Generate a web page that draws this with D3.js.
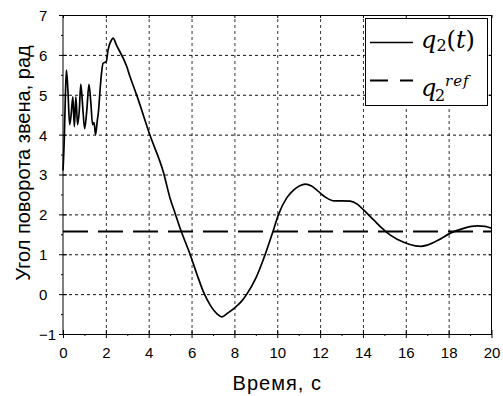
<!DOCTYPE html>
<html>
<head>
<meta charset="utf-8">
<script src="https://cdn.jsdelivr.net/npm/d3@7"></script>
<style>
  body { margin: 0; background: #fff; }
  svg { display: block; }
</style>
</head>
<body>
<svg width="503" height="396"></svg>
<script>
// time, s
var tData = [0, 0.06, 0.11, 0.16, 0.23, 0.31, 0.38, 0.46, 0.53, 0.6, 0.68, 0.76, 0.83, 0.92, 1.01,
  1.11, 1.21, 1.3, 1.38, 1.45, 1.52, 1.6, 1.66, 1.72, 1.79, 1.87, 2.02, 2.1, 2.26, 2.34, 2.49,
  2.98, 3.13, 3.44, 4.07, 4.69, 5.0, 5.23, 5.5, 5.93, 6.25, 6.56, 6.9, 7.2, 7.41, 7.7, 8.04,
  8.35, 8.58, 9.0, 9.44, 9.8, 10.06, 10.45, 10.76, 11.05, 11.31, 11.6, 11.85, 12.2, 12.63,
  13.0, 13.41, 13.75, 14.03, 14.5, 14.9, 15.28, 15.9, 16.45, 16.7, 17.0, 17.5, 18.08, 18.7,
  19.33, 19.7, 20];
// q2(t), rad
var q2 = [3.1, 3.9, 4.95, 5.62, 5.1, 4.25, 4.5, 4.95, 4.2, 4.95, 4.25, 4.6, 5.27, 4.7, 4.15,
  4.6, 5.26, 4.8, 4.25, 4.3, 4.0, 4.35, 4.6, 5.05, 5.5, 5.79, 5.83, 6.12, 6.37, 6.42, 6.25,
  5.7, 5.45, 4.99, 3.97, 3.05, 2.4, 2.03, 1.6, 1.0, 0.5, 0.05, -0.3, -0.5, -0.57, -0.47, -0.33,
  -0.17, 0.0, 0.4, 1.0, 1.57, 2.0, 2.42, 2.61, 2.72, 2.76, 2.71, 2.61, 2.45, 2.34,
  2.34, 2.33, 2.25, 2.11, 1.86, 1.65, 1.48, 1.3, 1.21, 1.2, 1.23, 1.35, 1.53, 1.65,
  1.71, 1.7, 1.65];
var qRef = Math.PI / 2;

var xTicks = [0, 2, 4, 6, 8, 10, 12, 14, 16, 18, 20];
var xMinor = [1, 3, 5, 7, 9, 11, 13, 15, 17, 19];
var yTicks = [-1, 0, 1, 2, 3, 4, 5, 6, 7];
var yMinor = [-0.5, 0.5, 1.5, 2.5, 3.5, 4.5, 5.5, 6.5];

var pLeft = 63, pRight = 491.5, pTop = 15, pBottom = 334;

var svg = d3.select("svg");
var font = "'Liberation Sans', Arial, sans-serif";

var x = d3.scaleLinear().domain([0, 20]).range([pLeft, pRight]);
var y = d3.scaleLinear().domain([-1, 7]).range([pBottom, pTop]);

// grid (axes with long ticks)
var gridX = svg.append("g").attr("class", "grid")
  .attr("transform", "translate(0," + pBottom + ")")
  .call(d3.axisBottom(x).tickValues(xTicks.slice(1, -1))
    .tickSize(-(pBottom - pTop)).tickFormat(""));
var gridY = svg.append("g").attr("class", "grid")
  .attr("transform", "translate(" + pLeft + ",0)")
  .call(d3.axisLeft(y).tickValues(yTicks.slice(1, -1))
    .tickSize(-(pRight - pLeft)).tickFormat(""));
svg.selectAll(".grid .domain").remove();
gridX.selectAll("line").style("stroke", "#333").style("stroke-dasharray", "3,3");
gridY.selectAll("line").style("stroke", "#111").style("stroke-dasharray", "3,3");

// reference line
svg.append("line")
  .attr("x1", pLeft).attr("x2", pRight)
  .attr("y1", y(qRef)).attr("y2", y(qRef))
  .attr("stroke", "#000").attr("stroke-width", 2)
  .attr("stroke-dasharray", "25,10");

// curve
var line = d3.line()
  .x(function (d, i) { return x(tData[i]); })
  .y(function (d) { return y(d); })
  .curve(d3.curveMonotoneX);

svg.append("path")
  .datum(q2)
  .attr("d", line)
  .attr("fill", "none")
  .attr("stroke", "#000")
  .attr("stroke-width", 1.7);

// frame
svg.append("rect")
  .attr("x", pLeft).attr("y", pTop + 0.5)
  .attr("width", pRight - pLeft).attr("height", pBottom - pTop)
  .style("fill", "none").style("stroke", "#000");

// axes
var gx = svg.append("g").attr("class", "ax").attr("transform", "translate(0," + pBottom + ")")
  .call(d3.axisBottom(x).tickValues(xTicks).tickSize(4).tickSizeOuter(0));
svg.append("g").attr("class", "ax").attr("transform", "translate(0," + pBottom + ")")
  .call(d3.axisTop(x).tickValues(xTicks).tickSize(4).tickSizeOuter(0).tickFormat(""));
svg.append("g").attr("class", "ax").attr("transform", "translate(0," + pBottom + ")")
  .call(d3.axisBottom(x).tickValues(xMinor).tickSize(2).tickSizeOuter(0).tickFormat(""));
svg.append("g").attr("class", "ax").attr("transform", "translate(0," + pTop + ")")
  .call(d3.axisBottom(x).tickValues(xTicks).tickSize(3).tickSizeOuter(0).tickFormat(""));

var gy = svg.append("g").attr("class", "ax").attr("transform", "translate(" + pLeft + ",0)")
  .call(d3.axisLeft(y).tickValues(yTicks).tickSize(4).tickSizeOuter(0));
svg.append("g").attr("class", "ax").attr("transform", "translate(" + pLeft + ",0)")
  .call(d3.axisRight(y).tickValues(yTicks).tickSize(4).tickSizeOuter(0).tickFormat(""));
svg.append("g").attr("class", "ax").attr("transform", "translate(" + pLeft + ",0)")
  .call(d3.axisLeft(y).tickValues(yMinor).tickSize(2).tickSizeOuter(0).tickFormat(""));
svg.append("g").attr("class", "ax").attr("transform", "translate(" + pRight + ",0)")
  .call(d3.axisLeft(y).tickValues(yTicks).tickSize(3).tickSizeOuter(0).tickFormat(""));

svg.selectAll(".ax .domain").remove();
svg.selectAll(".ax .tick line").attr("stroke", "#000");

gx.selectAll("text")
  .attr("y", 24).attr("dy", null)
  .attr("font-family", font).attr("font-size", 15).attr("fill", "#000");
gy.selectAll("text")
  .attr("x", 39 - pLeft).attr("dy", "0.36em")
  .attr("text-anchor", "start")
  .attr("font-family", font).attr("font-size", 15).attr("fill", "#000");

// axis titles
svg.append("text")
  .attr("x", (pLeft + pRight) / 2).attr("y", 390)
  .attr("text-anchor", "middle")
  .attr("font-family", font).attr("font-size", 20)
  .attr("letter-spacing", 1)
  .text("Время, с");

svg.append("text")
  .attr("transform", "translate(30,163) rotate(-90)")
  .attr("text-anchor", "middle")
  .attr("font-family", font).attr("font-size", 20)
  .text("Угол поворота звена, рад");

// legend
var serif = "'DejaVu Serif', 'Liberation Serif', serif";
var lg = svg.append("g");
lg.append("rect")
  .attr("x", 365.5).attr("y", 18.5).attr("width", 122).attr("height", 87)
  .attr("fill", "#fff").attr("stroke", "#000");
lg.append("line")
  .attr("x1", 370).attr("x2", 413).attr("y1", 42.5).attr("y2", 42.5)
  .attr("stroke", "#000").attr("stroke-width", 1.7);
lg.append("line")
  .attr("x1", 370).attr("x2", 413).attr("y1", 80.5).attr("y2", 80.5)
  .attr("stroke", "#000").attr("stroke-width", 2)
  .attr("stroke-dasharray", "18,12");

var t1 = lg.append("text").attr("x", 421).attr("y", 48)
  .attr("font-family", serif).attr("font-size", 24);
t1.append("tspan").attr("font-style", "italic").text("q");
t1.append("tspan").attr("font-size", 16).attr("dy", 3).text("2");
t1.append("tspan").attr("dy", -3).text("(");
t1.append("tspan").attr("font-style", "italic").text("t");
t1.append("tspan").text(")");

lg.append("text").attr("x", 421).attr("y", 96)
  .attr("font-family", serif).attr("font-size", 24)
  .attr("font-style", "italic").text("q");
lg.append("text").attr("x", 435).attr("y", 101)
  .attr("font-family", serif).attr("font-size", 16).text("2");
lg.append("text").attr("x", 445).attr("y", 86)
  .attr("font-family", serif).attr("font-size", 15)
  .attr("font-style", "italic").attr("letter-spacing", 1).text("ref");
</script>
</body>
</html>
